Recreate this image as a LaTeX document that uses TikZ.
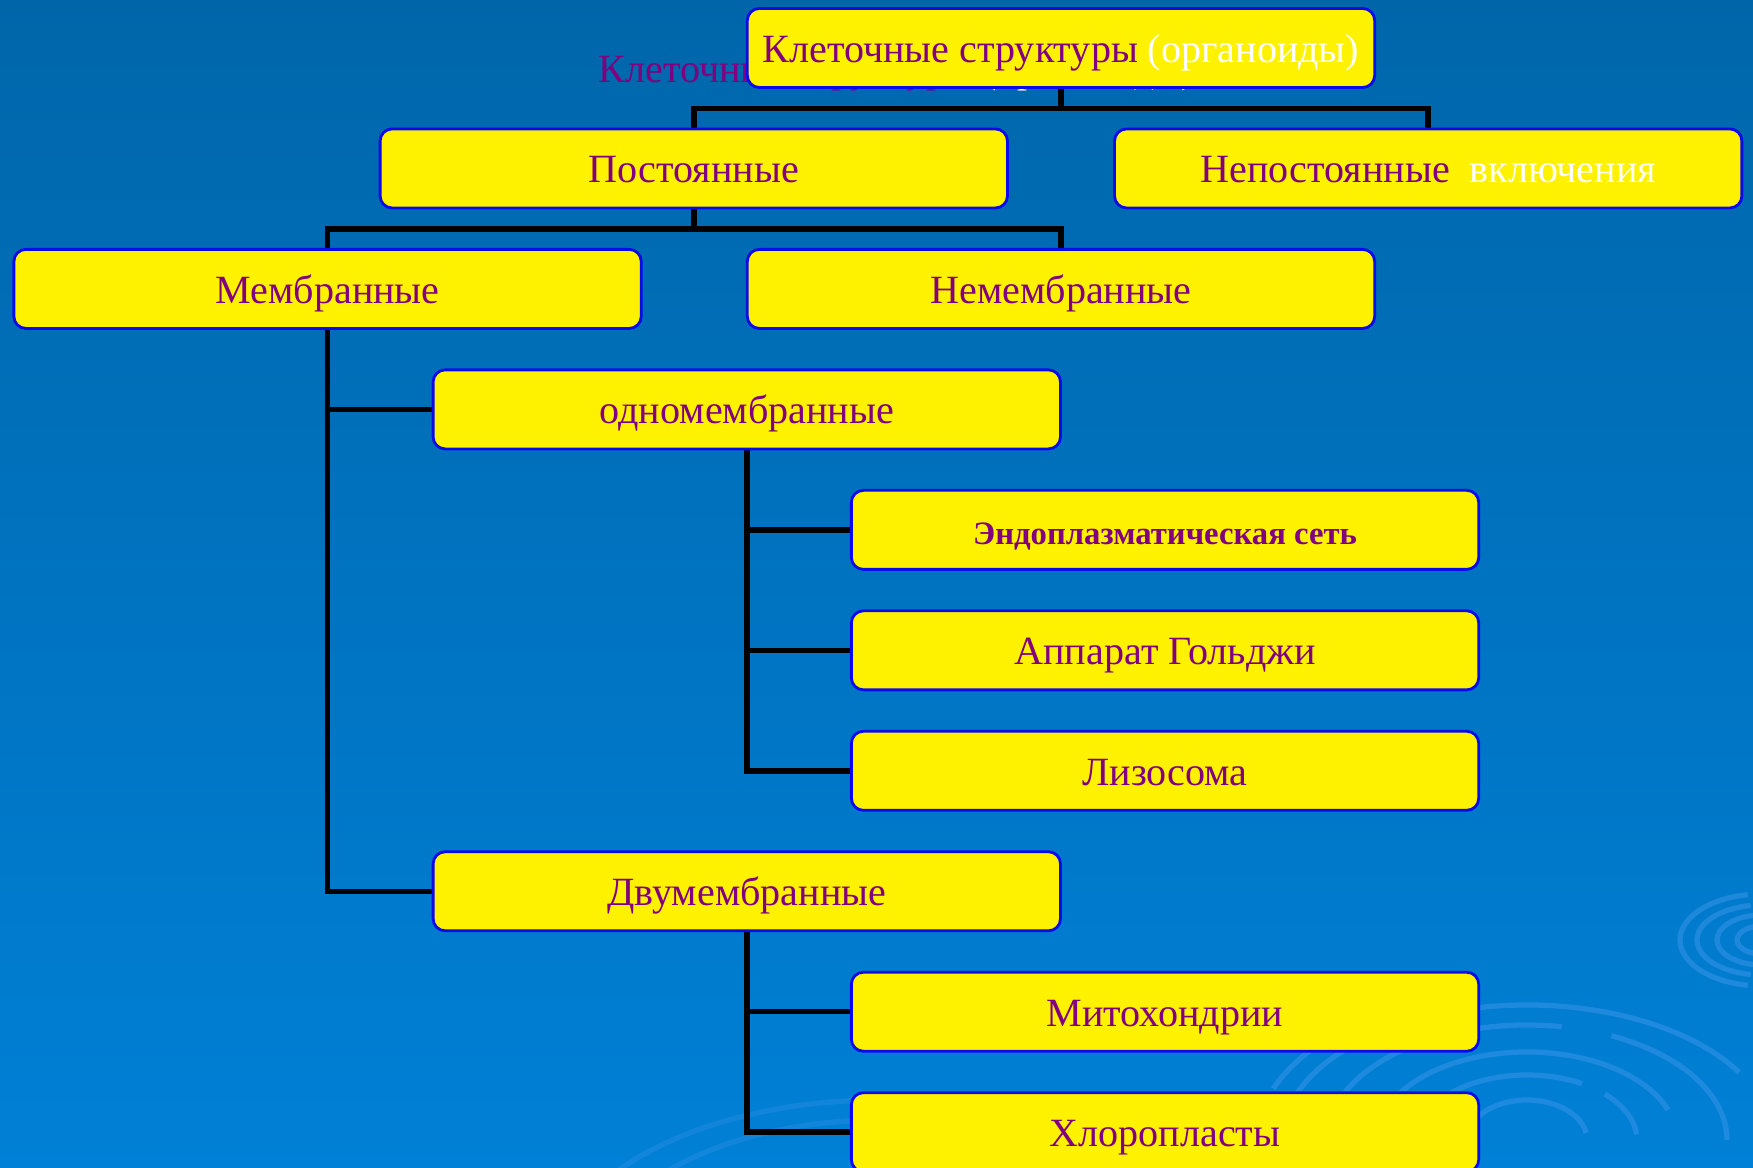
\documentclass[tikz,border=0pt]{standalone}
\usepackage{fontspec}
\setmainfont{Liberation Serif}
\usetikzlibrary{positioning,backgrounds}
\definecolor{orgtext}{RGB}{128,0,128}
\definecolor{boxline}{RGB}{10,10,235}
\definecolor{bgtop}{RGB}{0,102,170}
\definecolor{bgbot}{RGB}{0,128,214}
\definecolor{ripple}{RGB}{60,150,235}

\begin{document}
\begin{tikzpicture}[
  x=0.01cm,y=-0.01cm,
  font=\fontsize{11.4}{14}\selectfont,
  node distance=0.414cm,
  box/.style={draw=boxline,line width=0.8pt,fill=yellow,rounded corners=0.12cm,outer sep=0pt,
    minimum width=6.27cm,minimum height=0.79cm,inner sep=0pt,text=orgtext,
    text height=0.34cm,text depth=0.05cm},
  link/.style={line width=1.55pt},
  ring/.style={draw=ripple,line width=1.5pt,opacity=0.5},
]
\useasboundingbox (0,0) rectangle (1753,1168);
\clip (0,0) rectangle (1753,1168);

%% background with ripples
\begin{scope}[on background layer]
\shade[top color=bgtop,bottom color=bgbot] (0,0) rectangle (1753,1168);
\foreach \rx/\ry/\a/\b in {60/40/190/350,110/65/185/300,110/65/315/355,150/88/200/340,
  200/115/185/280,200/115/295/360,245/135/180/330,270/150/200/250}
  \draw[ring] (1527,1140) ++(\a:{\rx} and {\ry}) arc[start angle=\a,end angle=\b,x radius=\rx,y radius=\ry];
\foreach \rx/\ry in {25/14,45/25,65/35,82/46}
  \draw[ring] (1762,940) ++(100:{\rx} and {\ry}) arc[start angle=100,end angle=260,x radius=\rx,y radius=\ry];
\foreach \rx/\ry in {330/180,290/160}
  \draw[ring,opacity=0.3] (880,1280) ++(195:{\rx} and {\ry}) arc[start angle=195,end angle=265,x radius=\rx,y radius=\ry];
\end{scope}

%% title (with its shifted copy behind)
\node[text=orgtext,anchor=base west,inner sep=0pt] (ghost) at (598,83) {Клеточные структуры \textcolor{white}{(органоиды)}};
\node[box] (root) at (1061,48) {Клеточные структуры \textcolor{white}{(органоиды)}};

\node[box,below=of root,xshift=-3.67cm] (const) {Постоянные};
\node[box,below=of root,xshift=3.67cm] (inconst) {Непостоянные~ \textcolor{white}{включения}};
\node[box,below=of const,xshift=-3.66cm] (memb) {Мембранные};
\node[box,below=of const,xshift=3.67cm] (nonmemb) {Немембранные};
\node[box,below=of memb,xshift=4.19cm] (single) {одномембранные};
\node[box,below=of single,xshift=4.18cm,font=\bfseries\fontsize{9.3}{11}\selectfont] (er) {Эндоплазматическая сеть};
\node[box,below=of er] (golgi) {Аппарат Гольджи};
\node[box,below=of golgi] (lyso) {Лизосома};
\node[box,below=of lyso,xshift=-4.18cm] (double) {Двумембранные};
\node[box,below=of double,xshift=4.18cm] (mito) {Митохондрии};
\node[box,below=of mito] (chloro) {Хлоропласты};

\begin{scope}[on background layer]
\draw[link] (root.south) -- ++(0,21) coordinate (j0);
\draw[link] (const.north) |- (j0) -| (inconst.north);
\draw[link] (const.south) -- ++(0,21) coordinate (j1);
\draw[link] (memb.north) |- (j1) -| (nonmemb.north);
\draw[link] (memb.south) |- (single.west);
\draw[link] (memb.south) |- (double.west);
\foreach \n in {er,golgi,lyso}
  \draw[link] (single.south) |- (\n.west);
\foreach \n in {mito,chloro}
  \draw[link] (double.south) |- (\n.west);
\end{scope}
\end{tikzpicture}
\end{document}
